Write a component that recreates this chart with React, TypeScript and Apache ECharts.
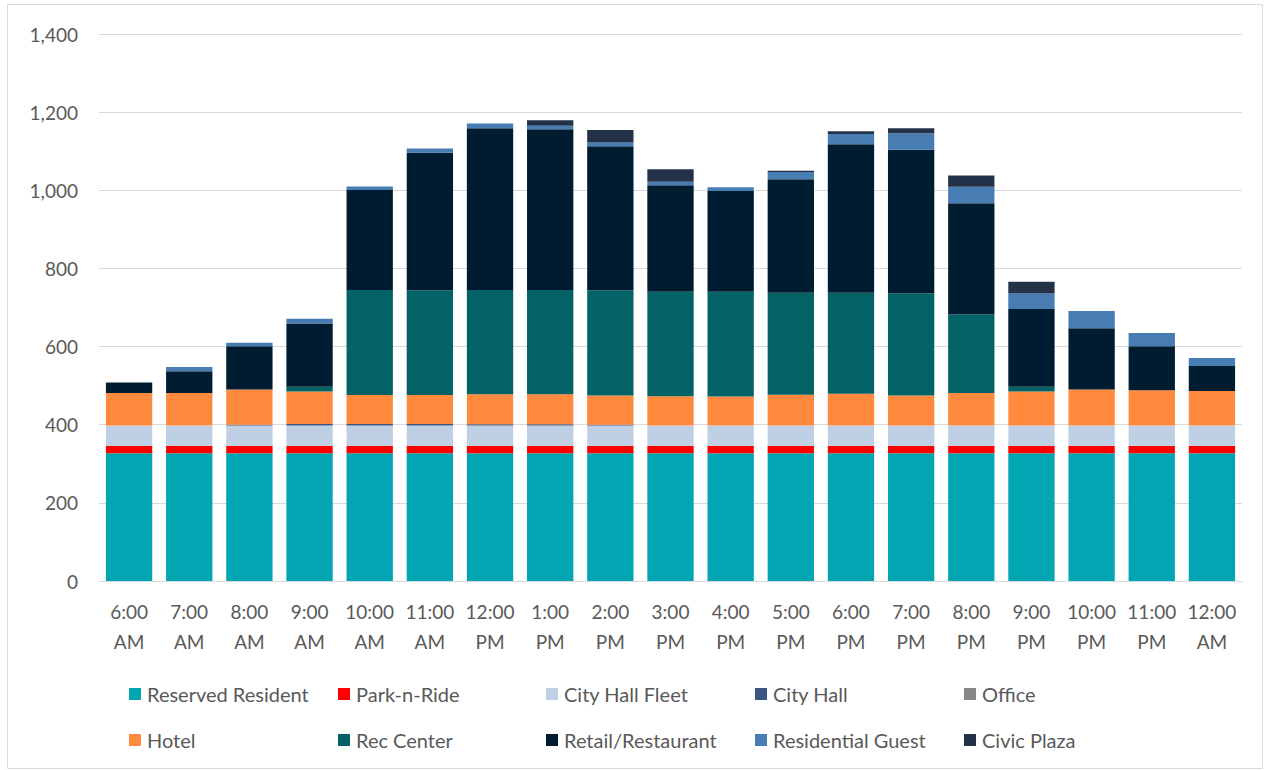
import React, { useEffect, useRef } from "react";
import * as echarts from "echarts";

const categories = [
  "6:00\nAM", "7:00\nAM", "8:00\nAM", "9:00\nAM", "10:00\nAM", "11:00\nAM",
  "12:00\nPM", "1:00\nPM", "2:00\nPM", "3:00\nPM", "4:00\nPM", "5:00\nPM",
  "6:00\nPM", "7:00\nPM", "8:00\nPM", "9:00\nPM", "10:00\nPM", "11:00\nPM", "12:00\nAM",
];

const reservedResident = [327, 327, 327, 327, 327, 327, 327, 327, 327, 327, 327, 327, 327, 327, 327, 327, 327, 327, 327];
const parkNRide = [19, 19, 19, 19, 19, 19, 19, 19, 19, 19, 19, 19, 19, 19, 19, 19, 19, 19, 19];
const cityHallFleet = [52, 52, 52, 52, 52, 52, 52, 52, 52, 52, 52, 52, 52, 52, 52, 52, 52, 52, 52];
const cityHall = [0, 0, 2, 4, 4, 4, 3, 3, 2, 0, 0, 0, 0, 0, 0, 0, 0, 0, 0];
const office = [0, 0, 0, 0, 0, 0, 0, 0, 0, 0, 0, 0, 0, 0, 0, 0, 0, 0, 0];
const hotel = [83, 83, 90, 83, 74, 74, 77, 77, 75, 75, 74, 79, 81, 77, 83, 87, 92, 90, 88];
const recCenter = [0, 0, 0, 12, 269, 268, 267, 267, 269, 267, 268, 261, 259, 261, 201, 12, 0, 0, 0];
const retailRestaurant = [27, 56, 111, 162, 256, 352, 414, 411, 369, 273, 258, 290, 380, 368, 285, 199, 157, 113, 64];
const residentialGuest = [0, 11, 9, 12, 9, 11, 12, 9, 9, 9, 10, 19, 26, 42, 42, 40, 44, 34, 21];
const civicPlaza = [0, 0, 0, 0, 0, 0, 0, 14, 32, 32, 0, 3, 7, 13, 29, 30, 0, 0, 0];

const yTicks = { min: 0, max: 1400, interval: 200 };

const seriesDefs = [
  { name: "Reserved Resident", data: reservedResident, color: "#02A6B3" },
  { name: "Park-n-Ride", data: parkNRide, color: "#FF0000" },
  { name: "City Hall Fleet", data: cityHallFleet, color: "#BFD0E4" },
  { name: "City Hall", data: cityHall, color: "#3C5682" },
  { name: "Office", data: office, color: "#888888" },
  { name: "Hotel", data: hotel, color: "#FF8A3D" },
  { name: "Rec Center", data: recCenter, color: "#026266" },
  { name: "Retail/Restaurant", data: retailRestaurant, color: "#001C30" },
  { name: "Residential Guest", data: residentialGuest, color: "#477DB2" },
  { name: "Civic Plaza", data: civicPlaza, color: "#243249" },
];

const FONT = "Lato, 'Noto Sans', sans-serif";
const legendCols = [124, 333, 541, 750, 959];
const legendRows = [679, 725];

export default function App() {
  const ref = useRef<HTMLDivElement>(null);
  useEffect(() => {
    if (!ref.current) return;
    const chart = echarts.init(ref.current, undefined, { renderer: "svg" });
    const legends = seriesDefs.map((s, i) => ({
      data: [s.name],
      left: legendCols[i % 5],
      top: legendRows[Math.floor(i / 5)],
      icon: "rect",
      itemWidth: 12,
      itemHeight: 12,
      itemGap: 0,
      selectedMode: false,
      textStyle: { fontSize: 20, color: "#595959", fontFamily: FONT, padding: [0, 0, 0, 1] },
    }));
    chart.setOption({
      animation: false,
      backgroundColor: "#ffffff",
      textStyle: { fontFamily: FONT },
      grid: { left: 99, right: 22, top: 34, bottom: 189, containLabel: false },
      legend: legends,
      graphic: [
        {
          type: "rect",
          shape: { x: 7.5, y: 4.5, width: 1255, height: 764 },
          style: { fill: "none", stroke: "#d9d9d9", lineWidth: 1 },
          silent: true,
        },
      ],
      xAxis: {
        type: "category",
        data: categories,
        axisLine: { show: true, lineStyle: { color: "#d9d9d9", width: 1 } },
        axisTick: { show: false },
        axisLabel: {
          color: "#595959",
          fontSize: 19,
          fontFamily: FONT,
          lineHeight: 30,
          margin: 15,
          interval: 0,
        },
      },
      yAxis: {
        type: "value",
        min: yTicks.min,
        max: yTicks.max,
        interval: yTicks.interval,
        axisLine: { show: false },
        axisTick: { show: false },
        splitLine: { lineStyle: { color: "#d9d9d9", width: 1 } },
        axisLabel: {
          color: "#595959",
          fontSize: 19,
          fontFamily: FONT,
          margin: 21,
          formatter: (v: number) => v.toLocaleString("en-US"),
        },
      },
      series: seriesDefs.map((s) => ({
        name: s.name,
        type: "bar",
        stack: "total",
        data: s.data,
        barCategoryGap: "23%",
        itemStyle: { color: s.color },
        emphasis: { disabled: true },
      })),
    });
    return () => chart.dispose();
  }, []);
  return (
    <div
      ref={ref}
      style={{ position: "absolute", left: 0, top: 0, width: 1264, height: 770 }}
    />
  );
}
